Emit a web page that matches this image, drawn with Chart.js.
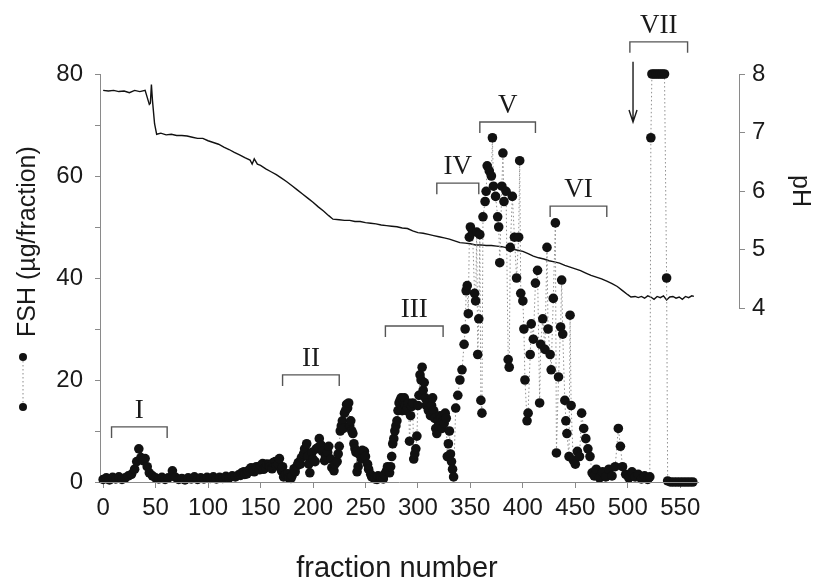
<!DOCTYPE html>
<html>
<head>
<meta charset="utf-8">
<script src="https://cdn.jsdelivr.net/npm/chart.js@4.4.1/dist/chart.umd.min.js"></script>
<style>
  html, body { margin: 0; padding: 0; background: #fff; }
  #wrap { width: 824px; height: 582px; }
</style>
</head>
<body>
<div id="wrap"><canvas id="fshChart" width="824" height="582"></canvas></div>
<script>
// --- データ ---
const xTickValues = [0, 50, 100, 150, 200, 250, 300, 350, 400, 450, 500, 550];
const yTickValues = [0, 10, 20, 30, 40, 50, 60, 70, 80];
const yLabelValues = [0, 20, 40, 60, 80];
const pHTickValues = [4, 5, 6, 7, 8];

// FSH (µg/fraction) : fraction number
const fshFractions = [
  0, 3, 6, 9, 12, 15, 18, 21, 24, 27,
  30, 32, 34, 36, 38, 40, 42, 44, 47, 50,
  53, 56, 59, 62, 66, 69, 72, 75, 78, 81,
  84, 87, 90, 93, 96, 99, 102, 105, 108, 111,
  114, 117, 120, 123, 126,
  129, 131, 132, 134, 135, 137, 138, 140, 141, 143,
  144, 146, 147, 149, 150, 152, 153, 155, 156, 158,
  159, 161, 162, 164, 165, 167, 168, 170, 171, 172,
  174, 176, 177, 179, 180, 182, 183, 185, 186, 188,
  189, 191, 192, 194, 195, 196, 197, 199, 200, 202,
  203, 205, 206, 208, 209, 211, 212, 214, 215, 217,
  218, 220, 221, 223, 224, 225, 226, 227, 228, 229,
  230, 231, 232, 233, 234, 235, 236, 237, 238, 239,
  240, 241, 242, 243, 244, 246, 247, 249, 250, 252,
  253, 255, 256, 258, 259, 261, 262, 264, 265, 267,
  268, 270, 271, 273, 274, 275, 276, 277, 278, 279,
  280, 281, 282, 283, 284, 285, 286, 287, 288, 289,
  290, 291, 292, 293, 294, 295, 296, 297, 298, 299,
  300, 301, 302, 303, 304, 305, 306, 307, 308, 309,
  310, 311, 312, 313, 314, 315, 316, 317, 318, 319,
  320, 321, 322, 323, 324, 325, 326, 327, 328, 329,
  330, 331, 332, 333, 334, 336, 338,
  340, 342, 344, 345, 346, 347, 348, 349, 350, 352,
  354, 355, 356, 357, 358, 359, 360, 361, 362, 364,
  365, 366, 368, 370, 371, 372, 374, 376, 377, 378,
  380, 381, 382, 384, 386, 387, 388, 390, 392, 394,
  396, 397, 398, 400, 401, 402, 404, 405, 407, 408,
  410, 412, 414, 416, 417, 419, 421, 423, 424, 426,
  427, 429, 431, 432, 434, 436, 437, 438, 440, 441,
  442, 444, 445, 446, 448, 450, 452, 454, 456, 458,
  460, 462, 464, 466, 468, 470, 473, 476, 479, 482,
  485, 488, 491, 493, 495, 498, 501, 504, 507, 510,
  513, 516, 519, 521, 522, 523, 525, 527, 529, 531,
  533, 535, 537, 538, 541, 544, 547, 550, 553, 556,
  559, 562
];
const fshValues = [
  0.5, 0.8, 0.4, 0.9, 0.6, 1.0, 0.5, 0.8, 1.2, 1.5,
  2.5, 4.0, 6.5, 4.8, 4.2, 4.6, 3.0, 1.8, 1.2, 0.8,
  0.6, 0.9, 0.5, 0.8, 2.2, 0.9, 0.5, 0.7, 0.4, 0.8,
  0.6, 1.0, 0.5, 0.8, 0.6, 0.9, 0.7, 1.0, 0.6, 0.9,
  0.7, 1.1, 0.8, 1.2, 1.0,
  1.4, 1.3, 1.8, 2.0, 1.5, 1.6, 2.2, 2.5, 2.8, 2.2,
  2.0, 3.0, 2.6, 2.4, 3.2, 3.6, 2.5, 2.8, 3.5, 3.4,
  3.0, 2.6, 3.8, 4.0, 3.2, 3.5, 4.6, 2.2, 3.0, 1.0,
  1.5, 1.6, 0.8, 0.7, 1.2, 2.6, 2.0, 3.2, 3.8, 3.5,
  4.8, 5.5, 6.5, 7.5, 5.0, 3.5, 1.8, 5.8, 4.5, 4.0,
  6.5, 6.8, 8.5, 7.2, 6.0, 4.2, 5.0, 5.8, 7.0, 4.5,
  2.8, 2.2, 3.5, 4.0, 5.5, 7.0, 10.0, 11.0, 12.0, 10.5,
  13.5, 14.0, 15.2, 14.5, 15.5, 11.0, 12.0, 10.0, 9.5, 7.5,
  6.5, 5.8, 2.0, 3.0, 5.5, 4.5, 6.2, 6.0, 5.0, 3.5,
  2.5, 1.5, 1.0, 0.8, 0.6, 0.5, 1.2, 1.0, 0.8, 0.6,
  1.5, 2.2, 3.0, 1.8, 3.0, 5.0, 7.5, 8.5, 10.0, 11.0,
  12.0, 14.0, 15.5, 16.0, 16.5, 14.0, 16.0, 16.5, 15.0, 14.0,
  14.5, 15.5, 8.0, 13.0, 14.8, 15.5, 4.5, 5.5, 6.5, 9.0,
  15.0, 17.0, 21.0, 20.0, 22.5, 18.0, 19.5, 16.5, 15.0, 15.5,
  14.0, 14.5, 13.0, 15.0, 16.5, 14.0, 12.5, 10.5, 9.5, 12.0,
  11.0, 13.0, 12.5, 10.5, 12.0, 11.5, 13.5, 12.5, 5.0, 7.5,
  10.0, 5.5, 4.0, 2.5, 1.0, 14.5, 17.0,
  20.0, 22.0, 27.0, 30.0, 37.5, 38.5, 33.0, 48.0, 50.0, 49.0,
  37.0, 35.5, 49.0, 25.0, 32.0, 48.5, 16.0, 13.5, 52.0, 55.0,
  57.0, 62.0, 61.0, 60.0, 67.5, 58.0, 56.0, 52.0, 50.0, 43.0,
  58.0, 64.5, 55.0, 57.0, 24.0, 22.5, 46.0, 56.0, 48.0, 40.0,
  48.0, 63.0, 37.0, 35.5, 30.0, 20.0, 12.0, 13.5, 25.0, 31.0,
  28.0, 39.0, 41.5, 15.5, 27.0, 32.0, 26.0, 46.0, 30.0, 25.0,
  22.0, 36.0, 50.8, 5.7, 20.6, 30.4, 39.6, 29.0, 16.0, 12.0,
  9.5, 5.0, 32.7, 15.0, 4.3, 3.5, 6.0, 5.0, 13.5, 10.5,
  8.5, 6.5, 5.0, 1.8, 1.2, 2.5, 0.8, 2.0, 1.0, 2.5,
  1.2, 3.0, 10.5, 7.0, 3.0, 1.5, 0.8, 2.0, 1.0, 1.5,
  0.6, 1.2, 0.5, 1.0, 67.5, 80, 80, 80, 80, 80,
  80, 80, 40, 0.2, 0, 0, 0, 0, 0, 0,
  0, 0
];

// pH 勾配
const pHFractions = [
  0, 5, 10, 15, 20, 25, 30, 35, 40, 42,
  44, 45, 46, 47, 49, 51, 55, 60, 65, 70,
  75, 80, 85, 90, 95, 100, 105, 110, 115, 120,
  125, 130, 135, 140, 142, 144, 147, 150, 155, 160,
  165, 170, 175, 180, 185, 190, 195, 200, 205, 210,
  215, 219, 225, 230, 235, 240, 245, 250, 255, 260,
  265, 270, 275, 280, 285, 290, 295, 300, 305, 310,
  315, 320, 325, 330, 335, 340, 345, 350, 355, 360,
  365, 370, 375, 380, 385, 390, 395, 400, 405, 410,
  415, 420, 425, 430, 435, 440, 445, 450, 455, 460,
  465, 470, 475, 480, 485, 490, 495, 500, 503, 507,
  510, 513, 516, 519, 522, 525, 528, 531, 534, 537,
  540, 543, 546, 549, 552, 555, 558, 561, 563
];
const pHValues = [
  7.72, 7.71, 7.72, 7.70, 7.71, 7.68, 7.72, 7.70, 7.72, 7.60,
  7.48, 7.50, 7.82, 7.55, 7.15, 6.97, 6.99, 6.96, 6.97, 6.95,
  6.95, 6.94, 6.92, 6.90, 6.90, 6.86, 6.83, 6.80, 6.75, 6.71,
  6.66, 6.62, 6.57, 6.53, 6.46, 6.55, 6.46, 6.44, 6.38, 6.33,
  6.28, 6.22, 6.16, 6.09, 6.02, 5.95, 5.88, 5.81, 5.73, 5.66,
  5.58, 5.52, 5.51, 5.50, 5.50, 5.48, 5.48, 5.46, 5.45, 5.44,
  5.42, 5.41, 5.40, 5.39, 5.37, 5.36, 5.32, 5.29, 5.28, 5.26,
  5.24, 5.22, 5.20, 5.18, 5.15, 5.12, 5.11, 5.10, 5.08, 5.08,
  5.07, 5.07, 5.06, 5.05, 5.03, 5.01, 4.99, 4.97, 4.93, 4.89,
  4.86, 4.84, 4.81, 4.79, 4.77, 4.73, 4.70, 4.67, 4.64, 4.60,
  4.56, 4.53, 4.50, 4.46, 4.42, 4.37, 4.30, 4.23, 4.19, 4.20,
  4.18, 4.20, 4.17, 4.21, 4.19, 4.15, 4.20, 4.18, 4.21, 4.14,
  4.19, 4.20, 4.17, 4.19, 4.15, 4.20, 4.18, 4.21, 4.20
];

// ピーク領域 I〜VII (fraction 範囲と括弧の高さ FSH 単位)
const regionNames = ['I', 'II', 'III', 'IV', 'V', 'VI', 'VII'];
const regionStart = [8, 171, 269, 318, 359, 426, 502];
const regionEnd = [61, 225, 324, 358, 412, 480, 557];
const regionLevel = [10.8, 21.0, 30.6, 58.6, 70.6, 54.1, 86.3];

// 矢印 (fraction, FSH 上端 → 下端)
const arrowFraction = 505;
const arrowFrom = 82.4;
const arrowTo = 70.6;

const sansFont = '"Liberation Sans", Arial, sans-serif';
const serifFont = '"Liberation Serif", "Times New Roman", serif';
const axisGray = '#8a8a8a';
const inkColor = '#1a1a1a';

// 括弧・軸線・タイトルなどの描画
const decorPlugin = {
  id: 'decor',
  afterDraw(chart) {
    const { ctx, chartArea, scales } = chart;
    const x = scales.x, y = scales.y, y2 = scales.y2;
    ctx.save();

    // x 軸線 (データ範囲まで)
    ctx.strokeStyle = axisGray;
    ctx.lineWidth = 1;
    ctx.beginPath();
    ctx.moveTo(chartArea.left, chartArea.bottom + 0.5);
    ctx.lineTo(x.getPixelForValue(568), chartArea.bottom + 0.5);
    ctx.stroke();

    // pH 軸線 (4〜8 のみ)
    const ax = Math.round(chartArea.right) + 0.5;
    ctx.beginPath();
    ctx.moveTo(ax, y2.getPixelForValue(4));
    ctx.lineTo(ax, y2.getPixelForValue(8));
    ctx.stroke();

    // 領域の括弧とローマ数字
    ctx.strokeStyle = '#555';
    ctx.lineWidth = 1.4;
    ctx.fillStyle = inkColor;
    ctx.font = '27px ' + serifFont;
    ctx.textAlign = 'center';
    ctx.textBaseline = 'alphabetic';
    regionNames.forEach((name, i) => {
      const x1 = x.getPixelForValue(regionStart[i]);
      const x2 = x.getPixelForValue(regionEnd[i]);
      const yt = y.getPixelForValue(regionLevel[i]);
      ctx.beginPath();
      ctx.moveTo(x1, yt + 11);
      ctx.lineTo(x1, yt);
      ctx.lineTo(x2, yt);
      ctx.lineTo(x2, yt + 11);
      ctx.stroke();
      ctx.fillText(name, (x1 + x2) / 2, yt - 9);
    });

    // 矢印
    const axp = x.getPixelForValue(arrowFraction);
    const ay1 = y.getPixelForValue(arrowFrom);
    const ay2 = y.getPixelForValue(arrowTo);
    ctx.strokeStyle = inkColor;
    ctx.lineWidth = 1.4;
    ctx.beginPath();
    ctx.moveTo(axp, ay1);
    ctx.lineTo(axp, ay2);
    ctx.moveTo(axp - 4, ay2 - 12);
    ctx.lineTo(axp, ay2);
    ctx.lineTo(axp + 4, ay2 - 12);
    ctx.stroke();

    // x 軸タイトル
    ctx.font = '29px ' + sansFont;
    ctx.textAlign = 'center';
    ctx.textBaseline = 'middle';
    ctx.fillText('fraction number', 397, 569);

    // 左軸タイトル (凡例記号付き)
    ctx.save();
    ctx.translate(28, chartArea.bottom - 145);
    ctx.rotate(-Math.PI / 2);
    ctx.font = '25px ' + sansFont;
    ctx.textAlign = 'left';
    ctx.fillText('FSH (µg/fraction)', 0, 0);
    ctx.restore();
    const lx = 23, ly1 = chartArea.bottom - 125, ly2 = chartArea.bottom - 75;
    ctx.strokeStyle = axisGray;
    ctx.lineWidth = 1;
    ctx.setLineDash([1.5, 2.5]);
    ctx.beginPath();
    ctx.moveTo(lx, ly1);
    ctx.lineTo(lx, ly2);
    ctx.stroke();
    ctx.setLineDash([]);
    ctx.fillStyle = '#111';
    [ly1, ly2].forEach(py => {
      ctx.beginPath();
      ctx.arc(lx, py, 4, 0, Math.PI * 2);
      ctx.fill();
    });

    // 右軸タイトル pH
    ctx.save();
    ctx.translate(800, (y2.getPixelForValue(4) + y2.getPixelForValue(8)) / 2);
    ctx.rotate(Math.PI / 2);
    ctx.fillStyle = inkColor;
    ctx.font = '25px ' + sansFont;
    ctx.textAlign = 'center';
    ctx.textBaseline = 'middle';
    ctx.fillText('pH', 0, 0);
    ctx.restore();

    ctx.restore();
  }
};

const ctx = document.getElementById('fshChart').getContext('2d');
new Chart(ctx, {
  type: 'line',
  data: {
    datasets: [
      {
        label: 'FSH',
        data: fshFractions.map((f, i) => ({ x: f, y: fshValues[i] })),
        yAxisID: 'y',
        order: 0,
        borderColor: '#8f8f8f',
        borderWidth: 1,
        borderDash: [1.5, 2.5],
        pointRadius: 4.8,
        pointBorderWidth: 0,
        pointBackgroundColor: '#111',
        pointBorderColor: '#111',
        tension: 0,
        clip: false
      },
      {
        label: 'pH',
        data: pHFractions.map((f, i) => ({ x: f, y: pHValues[i] })),
        yAxisID: 'y2',
        order: 1,
        borderColor: '#111',
        borderWidth: 1.4,
        pointRadius: 0,
        tension: 0
      }
    ]
  },
  options: {
    responsive: false,
    animation: false,
    layout: { padding: { top: 74, left: 0, right: 0, bottom: 0 } },
    plugins: { legend: { display: false }, tooltip: { enabled: false } },
    scales: {
      x: {
        type: 'linear',
        min: -3,
        max: 606,
        afterBuildTicks: s => { s.ticks = xTickValues.map(v => ({ value: v })); },
        afterFit: s => { s.height = 100; },
        ticks: { color: inkColor, font: { family: sansFont, size: 24 }, padding: 6, maxRotation: 0, autoSkip: false },
        grid: { drawOnChartArea: false, color: axisGray, tickLength: 6 },
        border: { display: false }
      },
      y: {
        position: 'left',
        min: 0,
        max: 80,
        afterBuildTicks: s => { s.ticks = yTickValues.map(v => ({ value: v })); },
        afterFit: s => { s.width = 100; },
        ticks: {
          color: inkColor,
          font: { family: sansFont, size: 24 },
          padding: 12,
          callback: v => (yLabelValues.includes(v) ? v : '')
        },
        grid: { drawOnChartArea: false, color: axisGray, tickLength: 5 },
        border: { display: true, color: axisGray, width: 1 }
      },
      y2: {
        position: 'right',
        min: 1.03,
        max: 8,
        afterBuildTicks: s => { s.ticks = pHTickValues.map(v => ({ value: v })); },
        afterFit: s => { s.width = 85; },
        ticks: { color: inkColor, font: { family: sansFont, size: 24 }, padding: 7 },
        grid: { drawOnChartArea: false, color: axisGray, tickLength: 6 },
        border: { display: false }
      }
    }
  },
  plugins: [decorPlugin]
});
</script>
</body>
</html>
